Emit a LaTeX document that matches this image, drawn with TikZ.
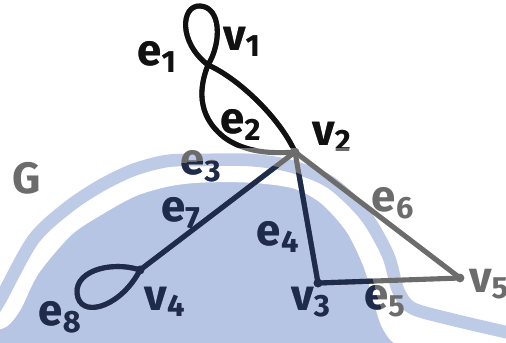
\documentclass[tikz,border=0pt]{standalone}
\usepackage{fontspec}
\setmainfont{Fira Sans}
\definecolor{inkBlack}{RGB}{17,17,17}
\definecolor{inkGrey}{RGB}{108,108,108}
\definecolor{inkNavy}{RGB}{30,43,74}
\definecolor{wmFill}{RGB}{182,197,228}
\definecolor{wmBand}{RGB}{190,203,230}

% watermark curves (pixel coordinates)
\newcommand{\gapLine}{plot[smooth] coordinates {(-10,324) (3,321) (15,306) (33,270) (67,230) (100,208) (133,190) (167,180) (200,176) (250,176) (295,182) (325,198) (352,228) (370,265) (380,300) (390,328) (410,341) (510,346)}}
\newcommand{\bandLine}{plot[smooth] coordinates {(-10,315) (0,300) (33,240) (67,208) (100,186) (133,170) (167,161) (200,160) (250,160) (290,166) (330,182) (365,215) (388,255) (398,290) (412,308) (450,319) (510,333)}}
% where the ink turns navy
\newcommand{\maskLine}{plot[smooth] coordinates {(-10,318) (0,305) (33,250) (67,215) (100,193) (133,176) (167,166) (200,161) (250,162) (295,172) (325,190) (350,222) (368,262) (378,300) (390,328) (410,341) (510,346)}}

% the whole graph in one ink colour
\newcommand{\inkLayer}[1]{%
  \draw[edge, #1] (v1) .. controls (178,42) and (181,5) .. (200,6)
    .. controls (221,7) and (222,42) .. (v1); % e1
  \draw[edge, #1] (v1) .. controls (238,78) and (280,118) .. (v2); % e2
  \draw[edge, #1] (v1) .. controls (200,85) and (195,115) .. (225,138)
    .. controls (245,152) and (270,154) .. (v2); % e3
  \draw[edge, #1] (v2) -- (v3); % e4
  \draw[edge, #1] (v3) -- (v5); % e5
  \draw[edge, #1] (v2) -- (v5); % e6
  \draw[edge, #1] (v2) -- (v4); % e7
  \draw[edge, #1] (v4) .. controls (110,260) and (70,272) .. (78,298)
    .. controls (85,318) and (122,305) .. (v4); % e8
  \foreach \v in {v2,v3,v4,v5}
    \fill[#1] (\v) circle[radius=2.5pt];
  \node[lab, text=#1] (lv1) at (242,42) {v\textsubscript{1}};
  \node[lab, text=#1] (lv2) at (332,137) {v\textsubscript{2}};
  \node[lab, text=#1] (lv3) at (311,302) {v\textsubscript{3}};
  \node[lab, text=#1] (lv4) at (165,302) {v\textsubscript{4}};
  \node[lab, text=#1] (lv5) at (489,284) {v\textsubscript{5}};
  \node[lab, text=#1] (le1) at (157,57) {e\textsubscript{1}};
  \node[lab, text=#1] (le2) at (241,125) {e\textsubscript{2}};
  \node[lab, text=#1] (le3) at (201,166) {e\textsubscript{3}};
  \node[lab, text=#1] (le4) at (278,237) {e\textsubscript{4}};
  \node[lab, text=#1] (le5) at (385,301) {e\textsubscript{5}};
  \node[lab, text=#1] (le6) at (393,203) {e\textsubscript{6}};
  \node[lab, text=#1] (le7) at (181,213) {e\textsubscript{7}};
  \node[lab, text=#1] (le8) at (60,317) {e\textsubscript{8}};
  \node[lab, text=#1] (lG) at (27,178) {G};
}

\begin{document}
\begin{tikzpicture}[
    x=0.02cm, y=-0.02cm,
    edge/.style={line width=2.9pt, line cap=round, line join=round},
    lab/.style={inner sep=0pt, font=\fontsize{25}{25}\selectfont\bfseries}
]
\useasboundingbox (0,0) rectangle (506,342);

% watermark
\begin{scope}
  \clip (0,0) rectangle (506,342);
  \fill[wmFill] \gapLine -- (510,350) -- (-10,350) -- cycle;
  \draw[white, line width=7.6pt] \gapLine;
  \draw[wmBand, line width=7.2pt] \bandLine;
\end{scope}

% vertices
\coordinate (v1) at (208,65);
\coordinate (v2) at (295,152);
\coordinate (v3) at (318,283);
\coordinate (v4) at (140,270);
\coordinate (v5) at (460,278);

\inkLayer{inkGrey}
\begin{scope}
  \clip \maskLine -- (510,350) -- (-10,350) -- cycle;
  \inkLayer{inkNavy}
\end{scope}
\begin{scope}
  \clip (0,0) rectangle (506,147);
  \inkLayer{inkBlack}
\end{scope}
\end{tikzpicture}
\end{document}
